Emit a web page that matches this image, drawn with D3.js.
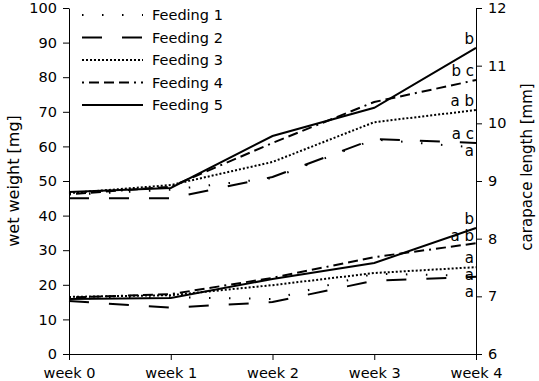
<!DOCTYPE html>
<html>
<head>
<meta charset="utf-8">
<script src="https://cdn.jsdelivr.net/npm/d3@7"></script>
<style>
  body { margin: 0; background: #fff; }
  #chart { width: 539px; height: 381px; }
  text { font-family: "DejaVu Sans", sans-serif; }
</style>
</head>
<body>
<div id="chart"></div>
<script>
// data
const weeks = ["week 0", "week 1", "week 2", "week 3", "week 4"];
const feedings = ["Feeding 1", "Feeding 2", "Feeding 3", "Feeding 4", "Feeding 5"];

// carapace length [mm], one row per feeding (upper group of lines, right axis)
const carapaceLength = [
    [8.76, 8.85, 9.05, 9.72, 9.58],
    [8.70, 8.70, 9.07, 9.73, 9.66],
    [8.79, 8.93, 9.33, 10.02, 10.23],
    [8.77, 8.90, 9.66, 10.37, 10.75],
    [8.81, 8.88, 9.78, 10.27, 11.31]
];
// wet weight [mg], one row per feeding (lower group of lines, left axis)
const wetWeight = [
    [16.0, 16.4, 15.9, 23.2, 22.6],
    [15.3, 13.4, 15.0, 21.2, 22.3],
    [16.5, 17.0, 19.9, 23.4, 25.1],
    [16.3, 17.3, 22.0, 28.0, 32.0],
    [15.9, 16.2, 21.7, 26.3, 36.4]
];
// significance letters at week 4
const lengthLetters = ["a", "a c", "a b", "b c", "b"];
const weightLetters = ["a", "a", "a", "a b", "b"];

const weightTicks = d3.range(0, 101, 10);
const lengthTicks = d3.range(6, 13, 1);

// line styles per feeding
const dashes = ["1.5,18.5", "20,20", "2,2", "2,5,10,5,10,5,10,5", null];

const margin = {top: 8, right: 63, bottom: 27, left: 69};
const W = 539, H = 381;

const svg = d3.select("#chart").append("svg")
    .attr("width", W).attr("height", H);

const x = d3.scalePoint().domain(weeks).range([margin.left, W - margin.right]);
const yW = d3.scaleLinear().domain([0, 100]).range([H - margin.bottom, margin.top]);
const yL = d3.scaleLinear().domain([6, 12]).range([H - margin.bottom, margin.top]);

// axes
const axL = svg.append("g").attr("transform", `translate(${margin.left},0)`)
    .call(d3.axisLeft(yW).tickValues(weightTicks).tickSize(6).tickSizeOuter(0).tickPadding(6));
const axR = svg.append("g").attr("transform", `translate(${W - margin.right},0)`)
    .call(d3.axisRight(yL).tickValues(lengthTicks).tickFormat(d3.format("d"))
        .tickSize(6).tickSizeOuter(0).tickPadding(6));
const axB = svg.append("g").attr("transform", `translate(0,${H - margin.bottom})`)
    .call(d3.axisBottom(x).tickSize(6).tickSizeOuter(0).tickPadding(8));

[axL, axR, axB].forEach(g => {
    g.selectAll("text").attr("font-size", 14.5).attr("fill", "#000")
        .attr("font-family", "DejaVu Sans");
    g.selectAll("line, path").attr("stroke", "#000");
});

// axis titles
svg.append("text")
    .attr("transform", `translate(13,181) rotate(-90)`)
    .attr("text-anchor", "middle").attr("dominant-baseline", "central")
    .attr("font-size", 16).text("wet weight [mg]");
svg.append("text")
    .attr("transform", `translate(527,167) rotate(-90)`)
    .attr("text-anchor", "middle").attr("dominant-baseline", "central")
    .attr("font-size", 15).text("carapace length [mm]");

// lines
function drawGroup(rows, y) {
    const line = d3.line().x((d, i) => x(weeks[i])).y(d => y(d));
    svg.append("g").selectAll("path")
        .data(rows)
        .join("path")
        .attr("d", d => line(d))
        .attr("fill", "none")
        .attr("stroke", "#000")
        .attr("stroke-width", 2)
        .attr("stroke-dasharray", (d, i) => dashes[i]);
}
drawGroup(carapaceLength, yL);
drawGroup(wetWeight, yW);

// letters near line ends, stacked so they don't overlap
function drawLetters(rows, letters, y) {
    let items = rows.map((r, i) => ({ v: r[r.length - 1], t: letters[i] }))
        .sort((a, b) => b.v - a.v);
    let prev = -Infinity;
    items.forEach(d => {
        d.y = Math.max(y(d.v) - 4, prev + 17);
        prev = d.y;
    });
    svg.append("g").selectAll("text")
        .data(items)
        .join("text")
        .attr("x", x(weeks[weeks.length - 1]) - 2)
        .attr("y", d => d.y)
        .attr("text-anchor", "end")
        .attr("font-family", "Liberation Serif, serif")
        .attr("font-size", 15)
        .text(d => d.t);
}
drawLetters(carapaceLength, lengthLetters, yL);
drawLetters(wetWeight, weightLetters, yW);

// legend
const legend = svg.append("g").attr("transform", "translate(82,15)");
const rowsL = legend.selectAll("g").data(feedings).join("g")
    .attr("transform", (d, i) => `translate(0,${i * 22.5})`);
rowsL.append("line")
    .attr("x1", 0).attr("x2", 61).attr("y1", 0).attr("y2", 0)
    .attr("stroke", "#000").attr("stroke-width", 2)
    .attr("stroke-dasharray", (d, i) => dashes[i]);
rowsL.append("text")
    .attr("x", 70).attr("y", 0).attr("dy", "0.35em")
    .attr("font-size", 14.5).text(d => d);
</script>
</body>
</html>
